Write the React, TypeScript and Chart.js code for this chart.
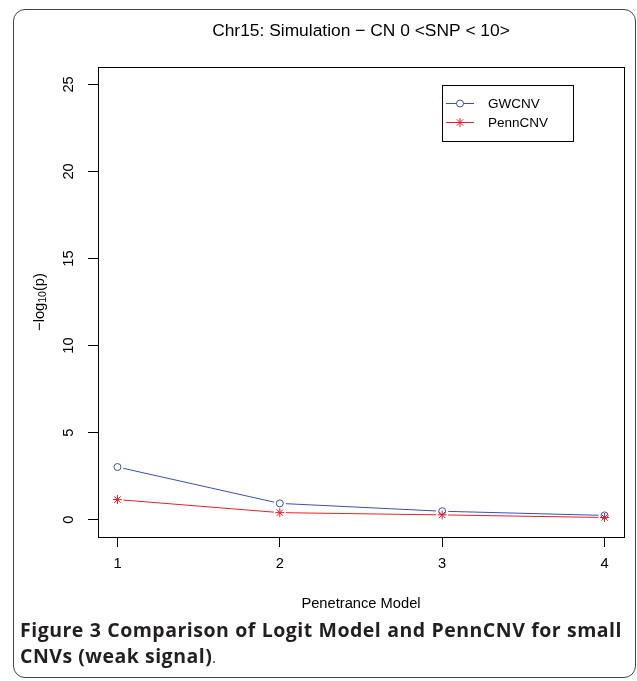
import React, { useEffect, useRef } from "react";
import { Chart, registerables } from "chart.js";

Chart.register(...registerables);

const penetranceModels = [1, 2, 3, 4];
const gwcnvValues = [3.02, 0.93, 0.48, 0.24];
const penncnvValues = [1.15, 0.4, 0.27, 0.12];
const yTickValues = [0, 5, 10, 15, 20, 25];
const chartTitle = "Chr15: Simulation \u2212 CN 0 <SNP < 10>";
const xTitle = "Penetrance Model";
const seriesNames = ["GWCNV", "PennCNV"];

const BLUE = "#3a50b4";
const RED = "#e8202a";
const FONT = "'Liberation Sans', Arial, Helvetica, sans-serif";
const CANVAS_H = 620;

const toPts = (vals: number[]) => penetranceModels.map((x, i) => ({ x, y: vals[i] }));

const decorPlugin = {
  id: "decor",
  afterDraw(chart: any) {
    const { ctx, chartArea, scales } = chart;
    const { left, right, top, bottom } = chartArea;
    ctx.save();
    // box
    ctx.strokeStyle = "#000";
    ctx.lineWidth = 1;
    ctx.strokeRect(Math.round(left) + 0.5, Math.round(top) + 0.5, Math.round(right - left), Math.round(bottom - top));
    const cx = (left + right) / 2;
    ctx.fillStyle = "#000";
    // title
    ctx.font = `17.4px ${FONT}`;
    ctx.textAlign = "center";
    ctx.textBaseline = "middle";
    ctx.fillText(chartTitle, cx, 31);
    // x title
    ctx.font = `14.7px ${FONT}`;
    ctx.fillText(xTitle, cx, 604);
    // y tick labels
    const ys = scales.y;
    ctx.font = `14.7px ${FONT}`;
    for (const v of yTickValues) {
      const py = ys.getPixelForValue(v);
      ctx.save();
      ctx.translate(69, py);
      ctx.rotate(-Math.PI / 2);
      ctx.textAlign = "center";
      ctx.textBaseline = "middle";
      ctx.fillText(String(v), 0, 0);
      ctx.restore();
    }
    // y title with subscript
    const cy = (top + bottom) / 2;
    ctx.save();
    ctx.translate(40, cy);
    ctx.rotate(-Math.PI / 2);
    ctx.textBaseline = "middle";
    ctx.textAlign = "left";
    const p1 = "\u2212log";
    const p2 = "10";
    const p3 = "(p)";
    ctx.font = `14.7px ${FONT}`;
    const w1 = ctx.measureText(p1).width;
    const w3 = ctx.measureText(p3).width;
    ctx.font = `10.5px ${FONT}`;
    const w2 = ctx.measureText(p2).width;
    const total = w1 + w2 + w3;
    let x0 = -total / 2;
    ctx.font = `14.7px ${FONT}`;
    ctx.fillText(p1, x0, 0);
    x0 += w1;
    ctx.font = `10.5px ${FONT}`;
    ctx.fillText(p2, x0, 3);
    x0 += w2;
    ctx.font = `14.7px ${FONT}`;
    ctx.fillText(p3, x0, 0);
    ctx.restore();
    // legend
    const lx = 442.5, ly = 85.5, lw = 131, lh = 56;
    ctx.fillStyle = "#fff";
    ctx.fillRect(lx, ly, lw, lh);
    ctx.strokeStyle = "#000";
    ctx.strokeRect(lx, ly, lw, lh);
    const rows = [
      { name: seriesNames[0], color: BLUE, y: 103, style: "circle" },
      { name: seriesNames[1], color: RED, y: 122, style: "star" },
    ];
    ctx.font = `13.5px ${FONT}`;
    ctx.textAlign = "left";
    ctx.textBaseline = "middle";
    for (const r of rows) {
      ctx.strokeStyle = r.color;
      ctx.lineWidth = 1;
      ctx.beginPath();
      ctx.moveTo(446, r.y + 0.5);
      ctx.lineTo(474, r.y + 0.5);
      ctx.stroke();
      const mx = 460, my = r.y + 0.5;
      if (r.style === "circle") {
        ctx.fillStyle = "#fff";
        ctx.beginPath();
        ctx.arc(mx, my, 3.5, 0, Math.PI * 2);
        ctx.fill();
        ctx.stroke();
      } else {
        const rr = 4.5;
        ctx.beginPath();
        ctx.moveTo(mx - rr, my); ctx.lineTo(mx + rr, my);
        ctx.moveTo(mx, my - rr); ctx.lineTo(mx, my + rr);
        const d = rr * 0.7071;
        ctx.moveTo(mx - d, my - d); ctx.lineTo(mx + d, my + d);
        ctx.moveTo(mx - d, my + d); ctx.lineTo(mx + d, my - d);
        ctx.stroke();
      }
      ctx.fillStyle = "#000";
      ctx.fillText(r.name, 488, r.y + 1);
    }
    ctx.restore();
  },
};

export default function App() {
  const ref = useRef<HTMLCanvasElement | null>(null);
  useEffect(() => {
    if (!ref.current) return;
    const chart = new Chart(ref.current, {
      type: "scatter",
      data: {
        datasets: [
          { label: "gw-line", data: toPts(gwcnvValues), showLine: true, borderColor: BLUE, borderWidth: 1, pointRadius: 0, order: 5 },
          { label: "penn-line", data: toPts(penncnvValues), showLine: true, borderColor: RED, borderWidth: 1, pointRadius: 0, order: 4 },
          { label: "gw-gap", data: toPts(gwcnvValues), showLine: false, pointRadius: 6, pointBorderWidth: 0, pointBackgroundColor: "#fff", pointBorderColor: "rgba(0,0,0,0)", order: 3 },
          { label: "penn-gap", data: toPts(penncnvValues), showLine: false, pointRadius: 6, pointBorderWidth: 0, pointBackgroundColor: "#fff", pointBorderColor: "rgba(0,0,0,0)", order: 2 },
          { label: seriesNames[0], data: toPts(gwcnvValues), showLine: false, pointStyle: "circle", pointRadius: 3.5, pointBorderWidth: 1, pointBorderColor: BLUE, pointBackgroundColor: "#fff", order: 1 },
          { label: seriesNames[1], data: toPts(penncnvValues), showLine: false, pointStyle: "star", pointRadius: 4.5, pointBorderWidth: 1, pointBorderColor: RED, pointBackgroundColor: RED, order: 0 },
        ],
      },
      options: {
        responsive: false,
        animation: false,
        devicePixelRatio: 1,
        layout: { padding: { left: 88, right: 13, top: 67, bottom: 0 } },
        plugins: { legend: { display: false }, tooltip: { enabled: false }, title: { display: false } },
        scales: {
          x: {
            type: "linear",
            min: 0.88,
            max: 4.12,
            afterBuildTicks: (s: any) => { s.ticks = penetranceModels.map((v) => ({ value: v })); },
            afterFit: (s: any) => { s.height = CANVAS_H - 537; },
            grid: { drawOnChartArea: false, drawTicks: true, tickLength: 10, color: "#000", lineWidth: 1 },
            border: { display: false },
            ticks: { color: "#000", font: { family: FONT, size: 14.7 }, padding: 8, maxRotation: 0, autoSkip: false },
          },
          y: {
            type: "linear",
            min: -1,
            max: 26,
            afterBuildTicks: (s: any) => { s.ticks = yTickValues.map((v) => ({ value: v })); },
            afterFit: (s: any) => { s.width = 10; },
            grid: { drawOnChartArea: false, drawTicks: true, tickLength: 10, color: "#000", lineWidth: 1 },
            border: { display: false },
            ticks: { display: false },
          },
        },
      },
      plugins: [decorPlugin],
    } as any);
    return () => chart.destroy();
  }, []);

  return (
    <div style={{ position: "absolute", left: 0, top: 0, width: 637, height: 681, background: "#fff" }}>
      <div
        style={{
          position: "absolute",
          left: 13,
          top: 9,
          width: 623,
          height: 669,
          boxSizing: "border-box",
          border: "1px solid #444",
          borderRadius: 12,
        }}
      />
      <canvas ref={ref} width={637} height={CANVAS_H} style={{ position: "absolute", left: 0, top: 0, width: 637, height: CANVAS_H }} />
      <div
        style={{
          position: "absolute",
          left: 20,
          top: 617,
          width: 602,
          fontFamily: "'Open Sans', 'Noto Sans', sans-serif",
          fontSize: 19.5,
          letterSpacing: 0.5,
          lineHeight: "26px",
          color: "#231f20",
          textAlign: "justify",
        }}
      >
        <b style={{ fontWeight: 700 }}>Figure 3 Comparison of Logit Model and PennCNV for small CNVs (weak signal)</b>
        <span style={{ fontSize: 14, letterSpacing: 0 }}>.</span>
      </div>
    </div>
  );
}
